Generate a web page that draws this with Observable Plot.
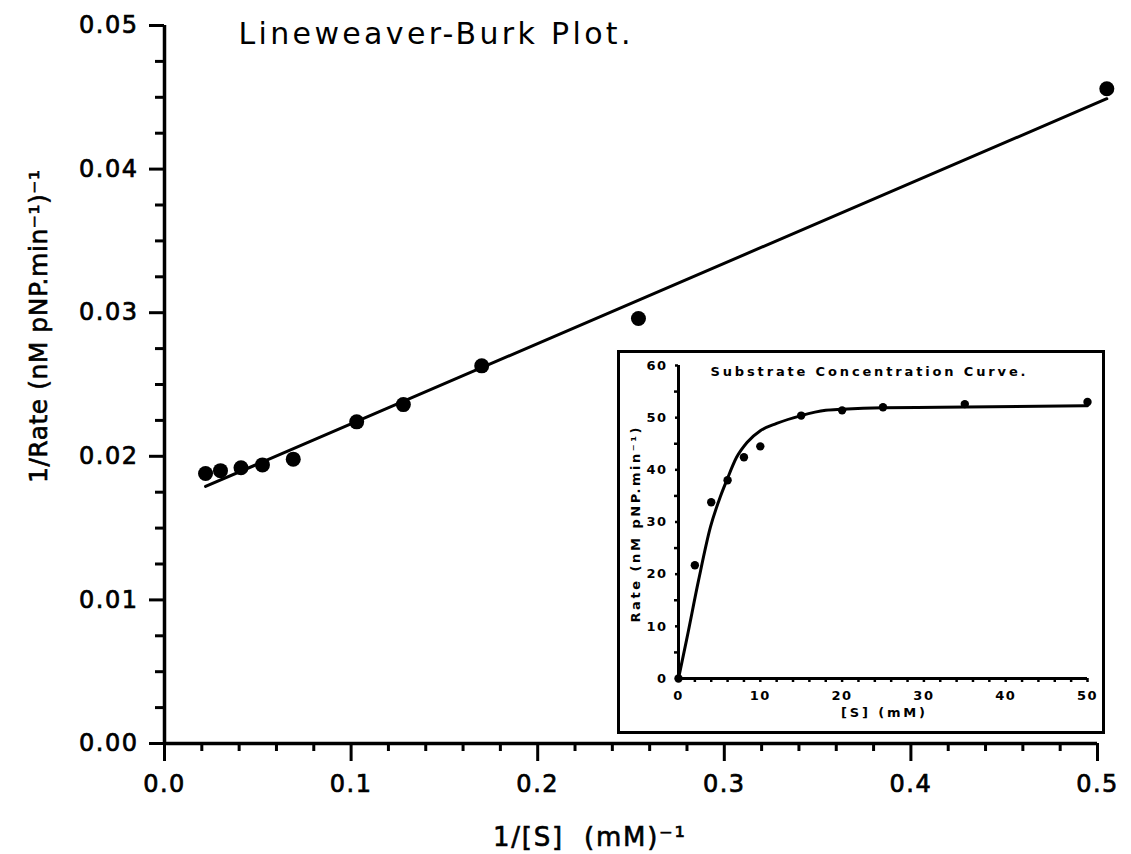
<!DOCTYPE html>
<html><head><meta charset="utf-8">
<script src="https://cdn.jsdelivr.net/npm/d3@7"></script>
<script src="https://cdn.jsdelivr.net/npm/@observablehq/plot@0.6"></script>
<style>
html,body{margin:0;padding:0;background:#fff;}
#wrap{position:relative;width:1131px;height:854px;overflow:hidden;}
#inset{position:absolute;left:617px;top:350px;width:482px;height:378px;border:3px solid #000;background:#fff;}
#inset svg, #main svg{display:block;}
#main g[aria-label$="-axis tick"], #main g[aria-label$="-axis tick"] *{stroke-width:3px !important;}
#inset g[aria-label$="-axis tick"], #inset g[aria-label$="-axis tick"] *{stroke-width:2.5px !important;}
</style>
</head><body>
<div id="wrap"><div id="main"></div><div id="inset"></div></div>
<script>
// ---- Lineweaver-Burk (main) data ----
const invS    = [0.022, 0.030, 0.041, 0.0525, 0.069, 0.103, 0.128, 0.170, 0.254, 0.505];
const invRate = [0.0188, 0.0190, 0.0192, 0.0194, 0.0198, 0.0224, 0.0236, 0.0263, 0.0296, 0.0456];
const fitX = [0.022, 0.505];
const fitY = [0.0179, 0.0449];
const xMajorTicks = [0, 0.1, 0.2, 0.3, 0.4, 0.5];
const xMinorTicks = [0.02, 0.04, 0.06, 0.08, 0.12, 0.14, 0.16, 0.18, 0.22, 0.24, 0.26, 0.28, 0.32, 0.34, 0.36, 0.38, 0.42, 0.44, 0.46, 0.48];
const yMajorTicks = [0, 0.01, 0.02, 0.03, 0.04, 0.05];
const yMinorTicks = [0.0025, 0.005, 0.0075, 0.0125, 0.015, 0.0175, 0.0225, 0.025, 0.0275, 0.0325, 0.035, 0.0375, 0.0425, 0.045, 0.0475];
const mainTitle = "Lineweaver-Burk Plot.";
const mainXLabel = "1/[S]  (mM)\u207B\u00B9";
const mainYLabel = "1/Rate (nM pNP.min\u207B\u00B9)\u207B\u00B9";

// ---- Substrate concentration curve (inset) data ----
const substrate = [0, 2, 4, 6, 8, 10, 15, 20, 25, 35, 50];
const rate      = [0, 21.7, 33.8, 38.0, 42.4, 44.5, 50.4, 51.4, 52.0, 52.6, 53.0];
const curveS = [0, 1, 2.45, 3.9, 5.1, 5.9, 7.1, 8.4, 10, 12, 15, 18, 20, 25, 32, 50];
const curveV = [0, 7.5, 18.8, 29.0, 34.8, 38.0, 42.4, 45.3, 47.5, 48.9, 50.4, 51.4, 51.6, 51.9, 52.0, 52.3];
const insetXMajor = [0, 10, 20, 30, 40, 50];
const insetXMinor = [2, 4, 6, 8, 12, 14, 16, 18, 22, 24, 26, 28, 32, 34, 36, 38, 42, 44, 46, 48];
const insetYMajor = [0, 10, 20, 30, 40, 50, 60];
const insetYMinor = [5, 15, 25, 35, 45, 55];
const insetTitle = "Substrate Concentration Curve.";
const insetXLabel = "[S] (mM)";
const insetYLabel = "Rate (nM pNP.min\u207B\u00B9)";

const lbRows = invS.map((x, i) => ({x, y: invRate[i]}));
const fitRows = fitX.map((x, i) => ({x, y: fitY[i]}));
const scRows = substrate.map((x, i) => ({x, y: rate[i]}));
const curveRows = curveS.map((x, i) => ({x, y: curveV[i]}));

const main = Plot.plot({
  width: 1131, height: 854,
  marginLeft: 164, marginRight: 34, marginTop: 25, marginBottom: 111,
  style: {fontFamily: "'DejaVu Sans', sans-serif", background: "white", color: "black"},
  x: {domain: [0, 0.5]},
  y: {domain: [0, 0.05]},
  marks: [
    Plot.axisX(xMinorTicks, {tickSize: 8, strokeWidth: 3, tickFormat: () => "", label: null}),
    Plot.axisX(xMajorTicks, {tickSize: 18, tickPadding: 13, strokeWidth: 3, fontSize: 24, tickFormat: d => d.toFixed(1), label: null}),
    Plot.axisY(yMinorTicks, {tickSize: 9, strokeWidth: 3, tickFormat: () => "", label: null}),
    Plot.axisY(yMajorTicks, {tickSize: 15, tickPadding: 11, strokeWidth: 3, fontSize: 24, tickFormat: d => d.toFixed(2), label: null}),
    Plot.ruleX([0], {strokeWidth: 3.5}),
    Plot.ruleY([0], {strokeWidth: 3.5}),
    Plot.line(fitRows, {x: "x", y: "y", strokeWidth: 3, stroke: "black"}),
    Plot.dot(lbRows, {x: "x", y: "y", r: 7.5, fill: "black"}),
    Plot.text([mainTitle], {frameAnchor: "top-left", textAnchor: "start", lineAnchor: "middle", dx: 74, dy: 9, fontSize: 30}),
    Plot.text([mainXLabel], {frameAnchor: "bottom", textAnchor: "middle", lineAnchor: "middle", dx: -42, dy: 94, fontSize: 26}),
    Plot.text([mainYLabel], {frameAnchor: "left", textAnchor: "middle", lineAnchor: "middle", rotate: -90, dx: -126, dy: -58, fontSize: 25})
  ]
});
document.getElementById("main").appendChild(main);

const inset = Plot.plot({
  width: 482, height: 378,
  marginLeft: 58, marginRight: 15, marginTop: 12, marginBottom: 53,
  style: {fontFamily: "'DejaVu Sans', sans-serif", fontWeight: "bold", background: "white", color: "black"},
  x: {domain: [0, 50]},
  y: {domain: [0, 60]},
  marks: [
    Plot.axisX(insetXMinor, {tickSize: 4, strokeWidth: 2.5, tickFormat: () => "", label: null}),
    Plot.axisX(insetXMajor, {tickSize: 4, tickPadding: 8, strokeWidth: 2.5, fontSize: 13, fontWeight: "bold", label: null}),
    Plot.axisY(insetYMinor, {tickSize: 4, strokeWidth: 2.5, tickFormat: () => "", label: null}),
    Plot.axisY(insetYMajor, {tickSize: 3, tickPadding: 8, strokeWidth: 2.5, fontSize: 13, fontWeight: "bold", label: null}),
    Plot.ruleX([0], {strokeWidth: 3}),
    Plot.ruleY([0], {strokeWidth: 3}),
    Plot.line(curveRows, {x: "x", y: "y", curve: "monotone-x", strokeWidth: 3, stroke: "black"}),
    Plot.dot(scRows, {x: "x", y: "y", r: 4.2, fill: "black"}),
    Plot.text([insetTitle], {frameAnchor: "top-left", textAnchor: "start", lineAnchor: "middle", dx: 32, dy: 6, fontSize: 13, fontWeight: "bold"}),
    Plot.text([insetXLabel], {frameAnchor: "bottom", textAnchor: "middle", lineAnchor: "middle", dy: 34, fontSize: 13, fontWeight: "bold"}),
    Plot.text([insetYLabel], {frameAnchor: "left", textAnchor: "middle", lineAnchor: "middle", rotate: -90, dx: -43, dy: 3, fontSize: 13, fontWeight: "bold"})
  ]
});
document.getElementById("inset").appendChild(inset);

// ---- typographic touch-ups (stroke weight, spacing) ----
function byText(svg, txt) {
  return d3.select(svg).selectAll("text").filter(function () { return this.textContent === txt; });
}
const mSel = d3.select(main);
mSel.selectAll('g[aria-label$="tick label"] text')
  .style("letter-spacing", "1.5px").attr("stroke", "black").attr("stroke-width", 0.7);
byText(main, mainTitle).attr("textLength", 392).attr("lengthAdjust", "spacing");
byText(main, mainXLabel).attr("textLength", 192).attr("lengthAdjust", "spacing").attr("stroke", "black").attr("stroke-width", 0.6);
byText(main, mainYLabel).attr("textLength", 313).attr("lengthAdjust", "spacing").attr("stroke", "black").attr("stroke-width", 0.6);

const iSel = d3.select(inset);
iSel.selectAll('g[aria-label$="tick label"] text').style("letter-spacing", "1.5px");
byText(inset, insetTitle).attr("textLength", 315).attr("lengthAdjust", "spacing");
byText(inset, insetXLabel).attr("textLength", 84).attr("lengthAdjust", "spacing");
byText(inset, insetYLabel).attr("textLength", 195).attr("lengthAdjust", "spacing");
</script>
</body></html>
